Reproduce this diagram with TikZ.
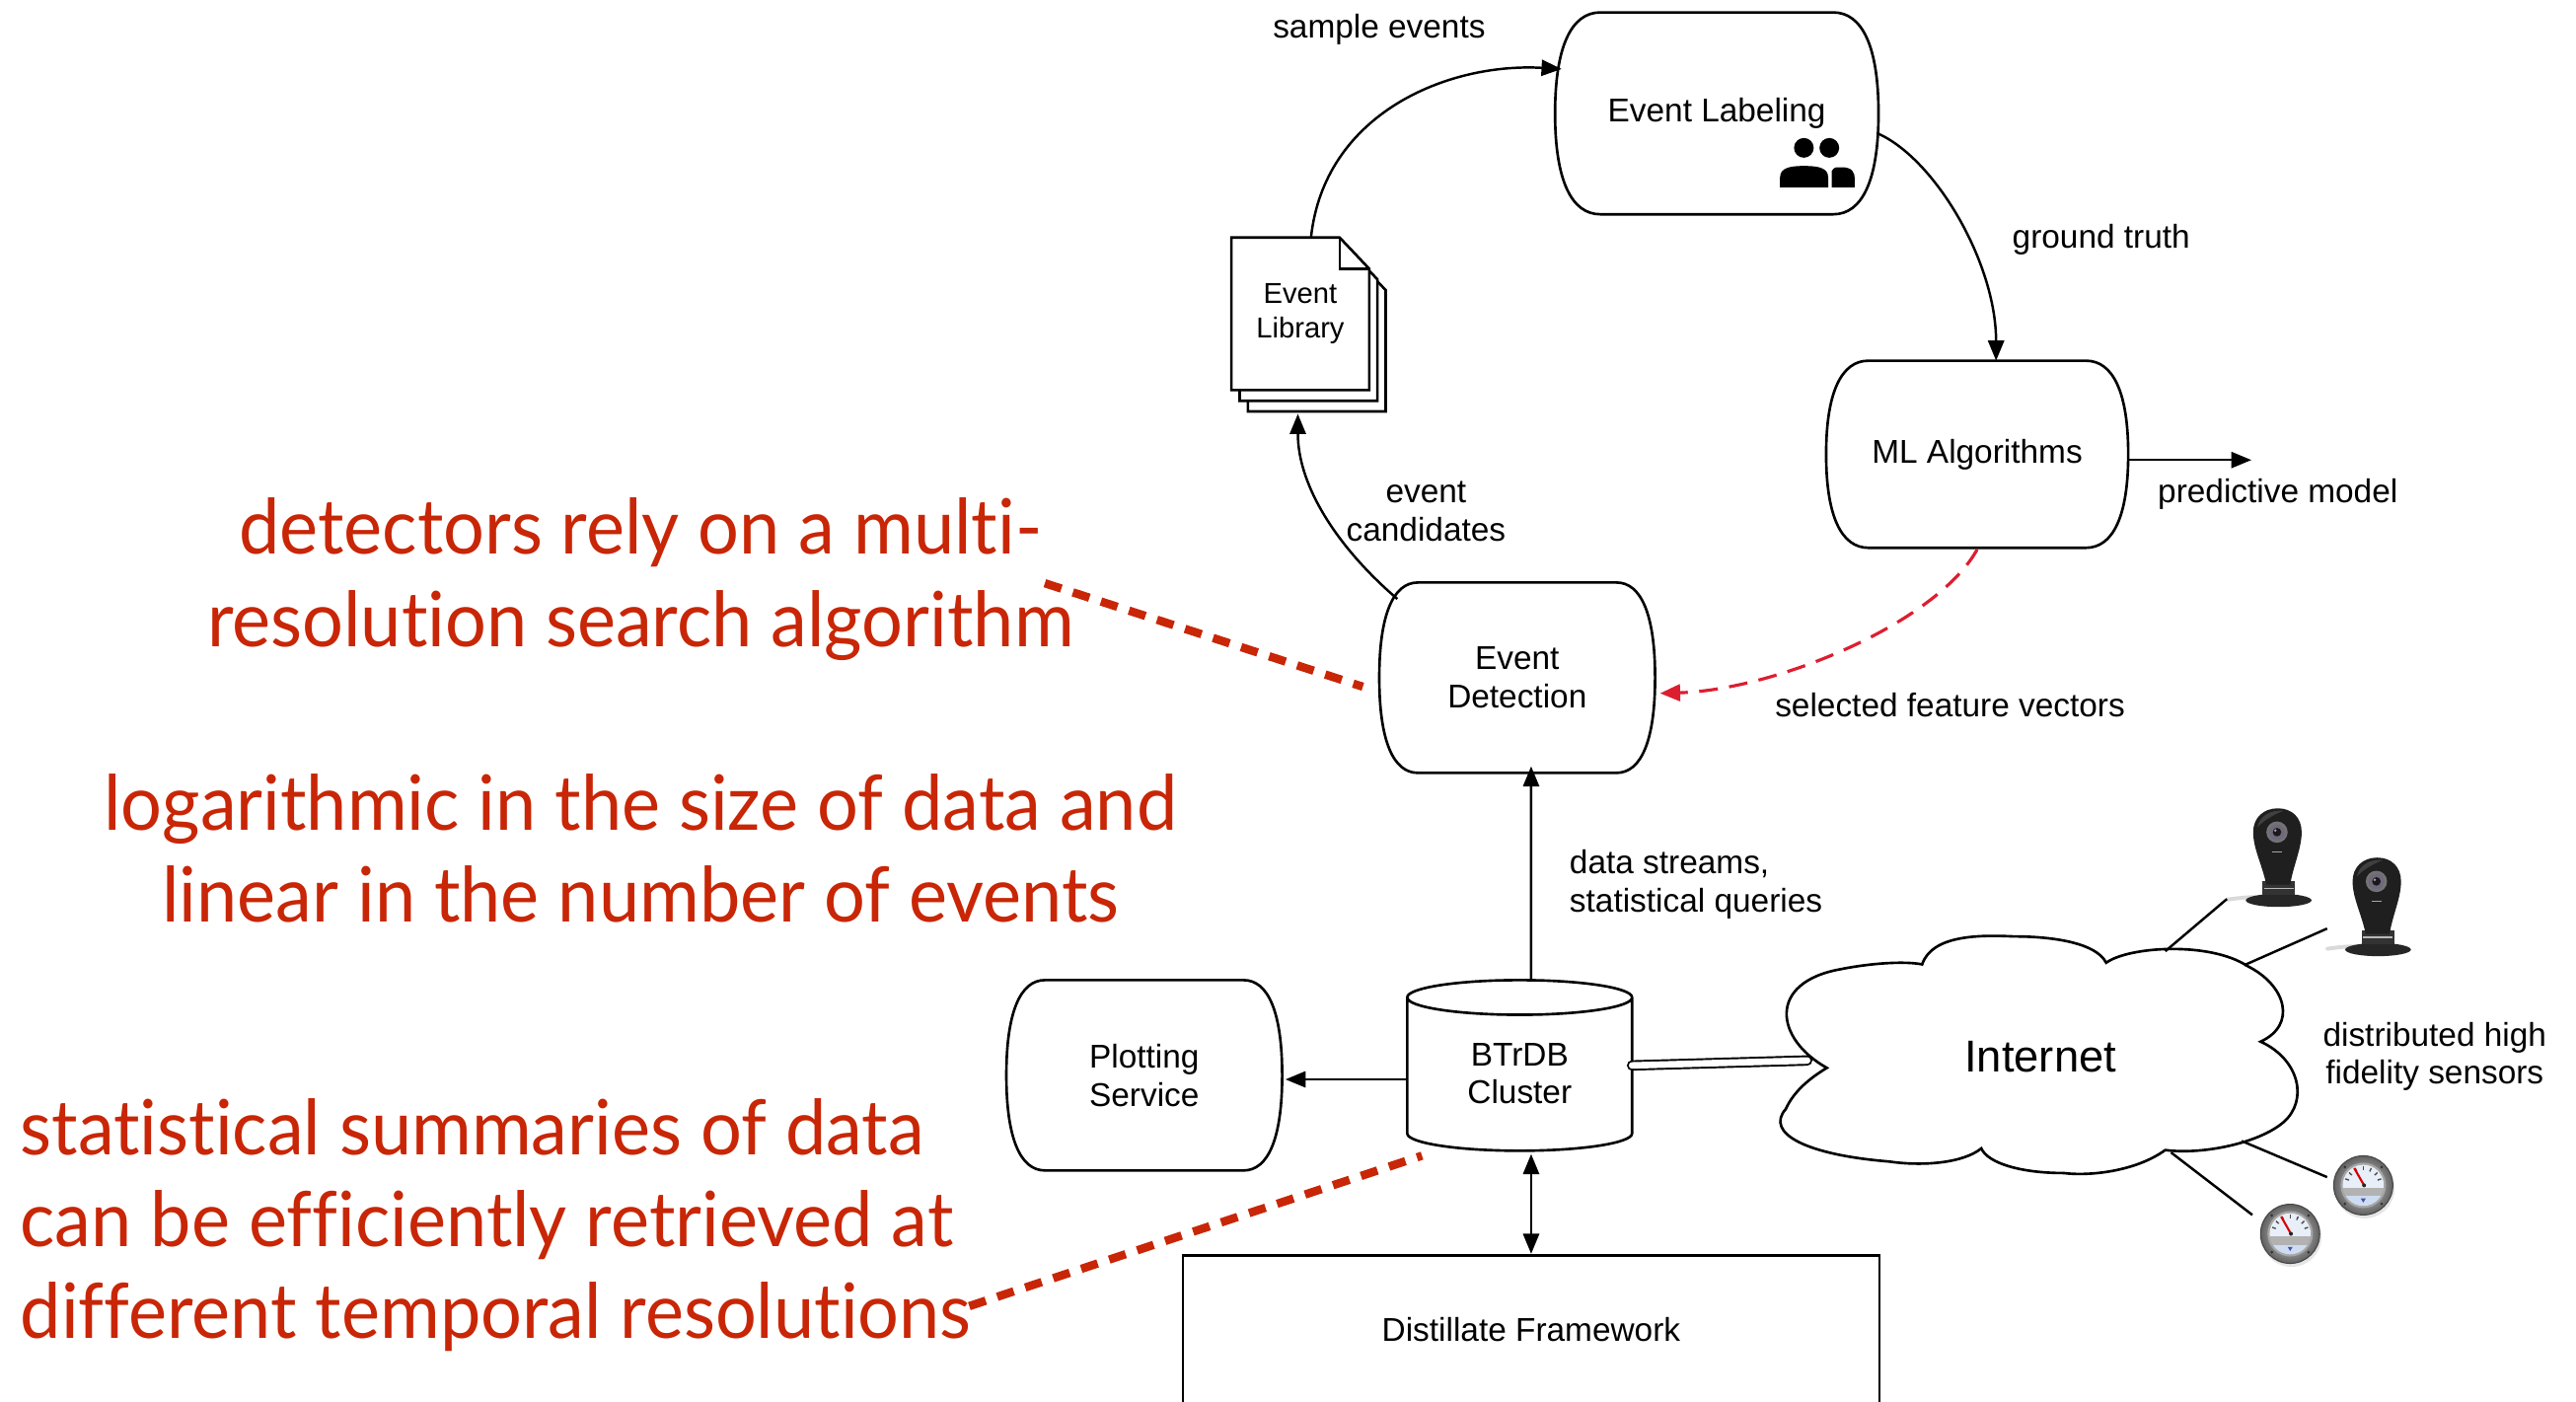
\documentclass[tikz,border=0pt]{standalone}
\usepackage{fontspec}
\setmainfont{Liberation Sans}
\newfontfamily\notefont[FakeStretch=0.955, Ligatures=NoCommon]{Lato}
\usetikzlibrary{arrows.meta,calc}
\definecolor{notered}{RGB}{200,38,6}
\definecolor{linkred}{RGB}{221,30,48}
\definecolor{lensc}{RGB}{112,104,124}
\definecolor{gaugeface}{RGB}{232,239,248}
\definecolor{gaugelow}{RGB}{205,220,240}
\pgfdeclarelayer{paper}
\pgfdeclarelayer{bg}
\pgfsetlayers{paper,bg,main}

% rounded box whose left and right sides bulge outwards
\newcommand\barrelshape[1]{%
  \draw[outline, fill=white] let \p1=(#1.south west), \p2=(#1.north east) in
    ({\x1+0.14*(\x2-\x1)},\y2) -- ({\x2-0.14*(\x2-\x1)},\y2)
    .. controls ({\x2-0.05*(\x2-\x1)},\y2) and (\x2,{\y2-0.17*(\y2-\y1)}) .. (\x2,{0.5*(\y1+\y2)})
    .. controls (\x2,{\y1+0.17*(\y2-\y1)}) and ({\x2-0.05*(\x2-\x1)},\y1) .. ({\x2-0.14*(\x2-\x1)},\y1)
    -- ({\x1+0.14*(\x2-\x1)},\y1)
    .. controls ({\x1+0.05*(\x2-\x1)},\y1) and (\x1,{\y1+0.17*(\y2-\y1)}) .. (\x1,{0.5*(\y1+\y2)})
    .. controls (\x1,{\y2-0.17*(\y2-\y1)}) and ({\x1+0.05*(\x2-\x1)},\y2) .. cycle;}

% database cylinder around a node; #2 is the half height of the end ellipse
\newcommand\cylindershape[2]{%
  \draw[outline, fill=white] let \p1=(#1.south west), \p2=(#1.north east) in
    (\x1,{\y2-#2}) -- (\x1,{\y1+#2})
    .. controls (\x1,{\y1+0.4477*#2}) and ({0.5*(\x1+\x2)-0.2762*(\x2-\x1)},\y1) .. ({0.5*(\x1+\x2)},\y1)
    .. controls ({0.5*(\x1+\x2)+0.2762*(\x2-\x1)},\y1) and (\x2,{\y1+0.4477*#2}) .. (\x2,{\y1+#2})
    -- (\x2,{\y2-#2})
    .. controls (\x2,{\y2-0.4477*#2}) and ({0.5*(\x1+\x2)+0.2762*(\x2-\x1)},\y2) .. ({0.5*(\x1+\x2)},\y2)
    .. controls ({0.5*(\x1+\x2)-0.2762*(\x2-\x1)},\y2) and (\x1,{\y2-0.4477*#2}) .. cycle
    (\x1,{\y2-#2})
    .. controls (\x1,{\y2-1.5523*#2}) and ({0.5*(\x1+\x2)-0.2762*(\x2-\x1)},{\y2-2*#2}) .. ({0.5*(\x1+\x2)},{\y2-2*#2})
    .. controls ({0.5*(\x1+\x2)+0.2762*(\x2-\x1)},{\y2-2*#2}) and (\x2,{\y2-1.5523*#2}) .. (\x2,{\y2-#2});}

\tikzset{
  outline/.style={line width=0.75pt, black},
  bx/.style 2 args={minimum width=#1*0.47374pt, minimum height=#2*0.47374pt,
    inner sep=0pt, align=center, font=\fontsize{9.5}{11}\selectfont},
  lbl/.style={inner sep=0pt, align=center, font=\fontsize{9.5}{11}\selectfont},
  arr/.style={line width=0.7pt, -{Triangle[length=5.8pt,width=4.6pt]}},
  arrboth/.style={line width=0.7pt, {Triangle[length=5.8pt,width=4.6pt]}-{Triangle[length=5.8pt,width=4.6pt]}},
  redarr/.style={linkred, line width=0.9pt, dash pattern=on 5.4pt off 3.3pt,
    -{Triangle[length=5.8pt,width=4.8pt]}},
  reddash/.style={notered, line width=2.4pt, dash pattern=on 5pt off 3.5pt},
  note/.style={notered, inner sep=0pt, font=\notefont\fontsize{22}{26.5}\selectfont},
  wire/.style={line width=0.7pt, black},
  camera/.pic={
    \draw[gray!30, line width=1.1pt, line cap=round] (-9,40) .. controls (-16,39) and (-22,40) .. (-30,41);
    \fill[black!85] (1,41.5) ellipse [x radius=20, y radius=4];
    \fill[black!80] (-9,30) rectangle (11,38);
    \draw[gray!55, line width=0.3pt] (-8,34) -- (10,34);
    \fill[black!88] (-6.5,32) .. controls (-9,20) and (-14.5,10) .. (-14.5,0)
      .. controls (-14.5,-9) and (-8,-14.5) .. (0.5,-14.5)
      .. controls (9,-14.5) and (15,-9) .. (15,0)
      .. controls (15,10) and (10,20) .. (8,32) -- cycle;
    \fill[white, opacity=0.15] (-12,-3) .. controls (-10,-11) and (-3,-13.5) .. (4,-13)
      .. controls (-4,-10) and (-9,-6) .. (-12,-3);
    \fill[black!55] (0,0) circle (6.5);
    \fill[lensc] (0,0) circle (4.8);
    \fill[black!90] (0,0) circle (2.6);
    \fill[white, opacity=0.6] (-1,-1) circle (0.8);
    \draw[white!65!black, line width=0.4pt] (-3,12) -- (3,12);
  },
  gauge/.pic={
    \fill[black!20, opacity=0.5] (0.8,1.8) circle (18.3);
    \shade[inner color=gray!20, outer color=gray!75!black] (0,0) circle (18);
    \draw[gray!55!black, line width=0.3pt] (0,0) circle (18);
    \foreach \a in {45,135,225,315} \fill[gray!40!black] (\a:15.8) circle (0.9);
    \fill[gray!70] (0,0) circle (13.8);
    \begin{scope}
      \clip (0,0) circle (12.5);
      \fill[gaugeface] (-13,-13) rectangle (13,2);
      \fill[gray!60] (-13,1.6) rectangle (13,6.6);
      \fill[gaugelow] (-13,6.6) rectangle (13,13);
    \end{scope}
    \foreach \a in {200,222,245,270,295,318,340}
      \draw[gray!60!black, line width=0.4pt] (\a:9.3) -- (\a:11.6);
    \fill[blue!40!gray] (-1.5,8) -- (1.5,8) -- (0,10.5) -- cycle;
    \draw[red!85!black, line width=0.6pt] (0.5,0) -- (-5.5,-10.5);
    \fill[gray!30!black] (0.5,0) circle (1.2);
  }
}

\begin{document}
\begin{tikzpicture}[x=0.01665cm, y=-0.01665cm]
\useasboundingbox (0,0) rectangle (1568,853);
\begin{pgfonlayer}{paper}
\fill[white] (0,0) rectangle (1568,853);
\end{pgfonlayer}

% ---------- process boxes ----------
\node[bx={196}{122}] (el) at (1045,69) {};
\node[bx={183}{113}] (ml) at (1203.5,276.5) {};
\node[bx={167}{115}] (ed) at (923.5,412.5) {};
\node[bx={167}{115}] (ps) at (696.5,654.5) {};
\node[bx={136}{103}] (db) at (925,648.5) {};
\barrelshape{el}
\barrelshape{ml}
\barrelshape{ed}
\barrelshape{ps}
\cylindershape{db}{5pt}
\node[bx={196}{122}] at (el) {Event Labeling};
\node[bx={183}{113}] at (ml) {ML Algorithms};
\node[bx={167}{115}] at (ed) {Event\\Detection};
\node[bx={167}{115}] at (ps) {Plotting\\Service};
\node[lbl] at ($(db)+(0,5)$) {BTrDB\\Cluster};
\node[bx={424}{91}, draw, line width=0.75pt] (df) at (932,809.5) {Distillate Framework};

% people icon inside the labelling box
\fill (1098,90) circle (6);
\fill (1113.5,90) circle (6);
\fill (1083.5,114) -- (1083.5,108) .. controls (1083.5,102) and (1090,101) .. (1098,101)
  .. controls (1106.5,101) and (1112.8,102) .. (1112.8,108) -- (1112.8,114) -- cycle;
\fill (1115,114) -- (1115,104) .. controls (1115.5,102.5) and (1117,101.8) .. (1119,101.8)
  -- (1121,101.8) .. controls (1127.5,101.8) and (1129,105) .. (1129,109) -- (1129,114) -- cycle;

% ---------- event library (stack of pages) ----------
\node[bx={83}{92}, font=\fontsize{8.3}{9.8}\selectfont] (lib) at (791.5,191) {Event\\Library};
\begin{pgfonlayer}{bg}
\foreach \o in {2,1,0}{
  \draw[outline, fill=white]
    ($(lib.north west)+(5*\o,6.5*\o)$) -- ($(lib.north east)+(5*\o-18,6.5*\o)$)
    -- ($(lib.north east)+(5*\o,6.5*\o+19)$) -- ($(lib.south east)+(5*\o,6.5*\o)$)
    -- ($(lib.south west)+(5*\o,6.5*\o)$) -- cycle;
}
\draw[outline] ($(lib.north east)+(-18,0)$) -- ($(lib.north east)+(-18,19)$) -- ($(lib.north east)+(0,19)$);
\end{pgfonlayer}

% ---------- internet cloud ----------
\node[font=\fontsize{12.9}{15}\selectfont, inner sep=0pt] (net) at (1242,643) {Internet};
\begin{pgfonlayer}{bg}
\draw[outline, fill=white] (1112,650)
  .. controls (1080,632) and (1076,598) .. (1120,590)
  .. controls (1140,586) and (1160,585) .. (1170,587)
  .. controls (1176,569) and (1205,569) .. (1226,570)
  .. controls (1250,570) and (1276,574) .. (1282,586)
  .. controls (1296,576) and (1345,573) .. (1368,588)
  .. controls (1392,600) and (1398,624) .. (1376,634)
  .. controls (1400,645) and (1405,670) .. (1390,683)
  .. controls (1375,696) and (1340,703) .. (1318,700)
  .. controls (1300,713) and (1272,716) .. (1256,714)
  .. controls (1230,714) and (1210,708) .. (1206,699)
  .. controls (1195,708) and (1170,710) .. (1150,707)
  .. controls (1100,703) and (1074,690) .. (1087,675)
  .. controls (1092,664) and (1102,656) .. (1112,650) -- cycle;
\end{pgfonlayer}
\coordinate (netW) at (1100,645.5);
\coordinate (netA) at (1318,579);
\coordinate (netB) at (1366,587.5);
\coordinate (netC) at (1364.5,694.5);
\coordinate (netD) at (1321.5,701.5);

% ---------- sensors ----------
\coordinate (cam1) at (1386,506.5);
\coordinate (cam2) at (1446.5,536.5);
\coordinate (gau1) at (1438.5,721.5);
\coordinate (gau2) at (1394,751);
\pic at (cam1) {camera};
\pic at (cam2) {camera};
\pic at (gau1) {gauge};
\pic at (gau2) {gauge};
\draw[wire] (netA) -- ($(cam1)+(-30.5,40.7)$);
\draw[wire] (netB) -- ($(cam2)+(-30,28.7)$);
\draw[wire] (netC) -- ($(gau1)+(-22,-5)$);
\draw[wire] (netD) -- ($(gau2)+(-23,-11.5)$);

% ---------- connectors ----------
\draw[arr] ($(lib.north)+(6.5,0)$) .. controls +(8,-75) and +(-70,-4) .. ($(el.west)+(4,-27)$);
\draw[arr] ($(el.east)+(-1,12)$) .. controls +(35,15) and +(0,-60) .. ($(ml.north)+(11.5,0)$);
\coordinate (pm) at ($(ml.east)+(75,3.5)$);
\draw[arr] ($(ml.east)+(0,3.5)$) -- (pm);
\draw[arr] ($(ed.north west)+(11,10)$) .. controls +(-35,-30) and +(0,45) .. ($(lib.south)+(-1.5,14.5)$);
\draw[redarr] ($(ml.south)+(0,1)$) .. controls +(-25,45) and +(70,-2) .. ($(ed.east)+(3,9.5)$);
\draw[arr] ($(db.north)+(7,0)$) -- ($(ed.south)+(8.5,-4)$);
\draw[arr] ($(db.west)+(0,8.5)$) -- ($(ps.east)+(2,2.5)$);
\draw[arrboth] ($(db.south)+(7,2)$) -- (df.north);
\draw[line width=0.55pt, double=white, double distance=1.9pt, line cap=round] (db.east) -- (netW);

% ---------- connector labels ----------
\node[lbl] (lse) at (839.5,18) {sample events};
\node[lbl] (lgt) at (1279,146) {ground truth};
\node[lbl] (lpm) at (1386.5,301) {predictive model};
\node[lbl] (lec) at (868,311.5) {event\\candidates};
\node[lbl] (lsf) at (1187,429) {selected feature vectors};
\node[lbl, align=left, anchor=west] (lds) at (955,538.5) {data streams,\\statistical queries};
\node[lbl] (lsn) at (1482,643) {distributed high\\fidelity sensors};

% ---------- annotations (anchored at the baseline of their last line) ----------
\node[note, align=center, anchor=base] (n1) at (390,393.4) {detectors rely on a multi-\\resolution search algorithm};
\node[note, align=center, anchor=base] (n2) at (390,561.5) {logarithmic in the size of data and\\linear in the number of events};
\node[note, align=left, anchor=base west] (n3) at (12,814.8) {statistical summaries of data\\can be efficiently retrieved at\\different temporal resolutions};
\coordinate (d1) at (636,355);
\coordinate (d2) at (590,795);
\draw[reddash] (d1) -- ($(ed.west)+(-10,5.5)$);
\draw[reddash] (d2) -- ($(db.south west)+(9,3)$);
\end{tikzpicture}
\end{document}
